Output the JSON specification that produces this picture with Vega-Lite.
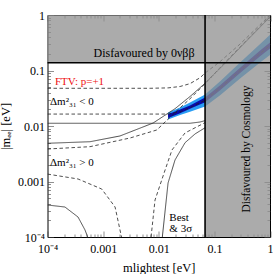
{
  "$schema": "https://vega.github.io/schema/vega-lite/v6.json",
  "width": 222.5,
  "height": 222,
  "autosize": {"type": "none"},
  "padding": {"left": 47.5, "top": 15, "right": 3, "bottom": 37},
  "background": "white",
  "config": {
    "view": {"stroke": "black", "strokeWidth": 1},
    "font": "Liberation Serif",
    "axis": {
      "grid": false,
      "domain": false,
      "tickColor": "#444",
      "tickWidth": 0.6,
      "labelFont": "Liberation Serif",
      "labelFontSize": 12,
      "labelColor": "black",
      "titleFont": "Liberation Serif",
      "titleFontSize": 12.5,
      "titleFontWeight": "normal",
      "titleColor": "black"
    }
  },
  "datasets": {
    "gray": [
      {"x": 0.0001, "x2": 0.068, "y": 0.138, "y2": 1},
      {"x": 0.068, "x2": 1, "y": 0.0001, "y2": 1}
    ],
    "band": [
      {"m": 0.0147, "lo": 0.0131, "hi": 0.0175, "ilo": 0.0139, "ihi": 0.0162},
      {"m": 0.0242, "lo": 0.0158, "hi": 0.0215, "ilo": 0.0170, "ihi": 0.0198},
      {"m": 0.0365, "lo": 0.0180, "hi": 0.0264, "ilo": 0.0205, "ihi": 0.0235},
      {"m": 0.0681, "lo": 0.0225, "hi": 0.0370, "ilo": 0.0268, "ihi": 0.0326},
      {"m": 0.127, "lo": 0.0360, "hi": 0.0640, "ilo": 0.0440, "ihi": 0.0540},
      {"m": 0.290, "lo": 0.0720, "hi": 0.140, "ilo": 0.0900, "ihi": 0.112},
      {"m": 0.664, "lo": 0.140, "hi": 0.300, "ilo": 0.180, "ihi": 0.230},
      {"m": 1.0, "lo": 0.190, "hi": 0.440, "ilo": 0.250, "ihi": 0.320}
    ],
    "curves": [
      {"c": "io3up", "s": "dashed", "o": 1, "m": 0.0001, "e": 0.0478},
      {"c": "io3up", "s": "dashed", "o": 2, "m": 0.00698, "e": 0.0478},
      {"c": "io3up", "s": "dashed", "o": 3, "m": 0.0147, "e": 0.0486},
      {"c": "io3up", "s": "dashed", "o": 4, "m": 0.0242, "e": 0.0515},
      {"c": "io3up", "s": "dashed", "o": 5, "m": 0.0365, "e": 0.058},
      {"c": "io3up", "s": "dashed", "o": 6, "m": 0.0553, "e": 0.074},
      {"c": "io3up", "s": "dashed", "o": 7, "m": 0.068, "e": 0.09},
      {"c": "io3up", "s": "dashed", "o": 8, "m": 0.127, "e": 0.145},
      {"c": "io3up", "s": "dashed", "o": 9, "m": 0.290, "e": 0.30},
      {"c": "io3up", "s": "dashed", "o": 10, "m": 0.664, "e": 0.67},
      {"c": "io3up", "s": "dashed", "o": 11, "m": 1.0, "e": 1.0},
      {"c": "io3lo", "s": "dashed", "o": 1, "m": 0.0001, "e": 0.0164},
      {"c": "io3lo", "s": "dashed", "o": 2, "m": 0.0147, "e": 0.0164},
      {"c": "io3lo", "s": "dashed", "o": 3, "m": 0.0242, "e": 0.0180},
      {"c": "io3lo", "s": "dashed", "o": 4, "m": 0.0365, "e": 0.0215},
      {"c": "io3lo", "s": "dashed", "o": 5, "m": 0.0681, "e": 0.0292},
      {"c": "io3lo", "s": "dashed", "o": 6, "m": 0.127, "e": 0.0485},
      {"c": "io3lo", "s": "dashed", "o": 7, "m": 0.290, "e": 0.100},
      {"c": "io3lo", "s": "dashed", "o": 8, "m": 0.664, "e": 0.203},
      {"c": "io3lo", "s": "dashed", "o": 9, "m": 1.0, "e": 0.283},
      {"c": "iobest", "s": "solid", "o": 1, "m": 0.0001, "e": 0.0112},
      {"c": "iobest", "s": "solid", "o": 2, "m": 0.0365, "e": 0.0112},
      {"c": "iobest", "s": "solid", "o": 3, "m": 0.0553, "e": 0.0118},
      {"c": "iobest", "s": "solid", "o": 4, "m": 0.068, "e": 0.0125},
      {"c": "nobup", "s": "solid", "o": 1, "m": 0.0001, "e": 0.00488},
      {"c": "nobup", "s": "solid", "o": 2, "m": 0.000581, "e": 0.00521},
      {"c": "nobup", "s": "solid", "o": 3, "m": 0.00201, "e": 0.00661},
      {"c": "nobup", "s": "solid", "o": 4, "m": 0.00789, "e": 0.0113},
      {"c": "nobup", "s": "solid", "o": 5, "m": 0.0196, "e": 0.0205},
      {"c": "nobup", "s": "solid", "o": 6, "m": 0.0365, "e": 0.034},
      {"c": "nobup", "s": "solid", "o": 7, "m": 0.0553, "e": 0.049},
      {"c": "nobup", "s": "solid", "o": 8, "m": 0.068, "e": 0.059},
      {"c": "nobup", "s": "solid", "o": 9, "m": 0.15, "e": 0.13},
      {"c": "nobup", "s": "solid", "o": 10, "m": 0.4, "e": 0.36},
      {"c": "nobup", "s": "solid", "o": 11, "m": 1.0, "e": 0.92},
      {"c": "no3up", "s": "dashed", "o": 1, "m": 0.0001, "e": 0.00385},
      {"c": "no3up", "s": "dashed", "o": 2, "m": 0.000581, "e": 0.00424},
      {"c": "no3up", "s": "dashed", "o": 3, "m": 0.00305, "e": 0.00608},
      {"c": "no3up", "s": "dashed", "o": 4, "m": 0.0092, "e": 0.00847},
      {"c": "no3up", "s": "dashed", "o": 5, "m": 0.0196, "e": 0.0175},
      {"c": "no3up", "s": "dashed", "o": 6, "m": 0.0365, "e": 0.031},
      {"c": "no3up", "s": "dashed", "o": 7, "m": 0.0553, "e": 0.047},
      {"c": "no3up", "s": "dashed", "o": 8, "m": 0.068, "e": 0.058},
      {"c": "no3up", "s": "dashed", "o": 9, "m": 0.15, "e": 0.135},
      {"c": "no3up", "s": "dashed", "o": 10, "m": 0.4, "e": 0.37},
      {"c": "no3up", "s": "dashed", "o": 11, "m": 1.0, "e": 0.95},
      {"c": "nolowA", "s": "solid", "o": 1, "m": 0.0001, "e": 0.000377},
      {"c": "nolowA", "s": "solid", "o": 2, "m": 0.000206, "e": 0.000347},
      {"c": "nolowA", "s": "solid", "o": 3, "m": 0.000354, "e": 0.000229},
      {"c": "nolowA", "s": "solid", "o": 4, "m": 0.000472, "e": 0.000134},
      {"c": "nolowA", "s": "solid", "o": 5, "m": 0.000528, "e": 0.0001},
      {"c": "nolowB", "s": "dashed", "o": 1, "m": 0.0001, "e": 0.00136},
      {"c": "nolowB", "s": "dashed", "o": 2, "m": 0.000354, "e": 0.00111},
      {"c": "nolowB", "s": "dashed", "o": 3, "m": 0.000943, "e": 0.000732},
      {"c": "nolowB", "s": "dashed", "o": 4, "m": 0.00164, "e": 0.000347},
      {"c": "nolowB", "s": "dashed", "o": 5, "m": 0.00201, "e": 0.000134},
      {"c": "nolowB", "s": "dashed", "o": 6, "m": 0.00214, "e": 0.0001},
      {"c": "noC", "s": "dashed", "o": 1, "m": 0.00727, "e": 0.0001},
      {"c": "noC", "s": "dashed", "o": 2, "m": 0.00857, "e": 0.000464},
      {"c": "noC", "s": "dashed", "o": 3, "m": 0.013, "e": 0.00161},
      {"c": "noC", "s": "dashed", "o": 4, "m": 0.0173, "e": 0.00370},
      {"c": "noC", "s": "dashed", "o": 5, "m": 0.0297, "e": 0.0075},
      {"c": "noC", "s": "dashed", "o": 6, "m": 0.068, "e": 0.0115},
      {"c": "noD", "s": "solid", "o": 1, "m": 0.0116, "e": 0.0001},
      {"c": "noD", "s": "solid", "o": 2, "m": 0.0147, "e": 0.00094},
      {"c": "noD", "s": "solid", "o": 3, "m": 0.0196, "e": 0.00244},
      {"c": "noD", "s": "solid", "o": 4, "m": 0.0297, "e": 0.0050},
      {"c": "noD", "s": "solid", "o": 5, "m": 0.045, "e": 0.0072},
      {"c": "noD", "s": "solid", "o": 6, "m": 0.068, "e": 0.0093}
    ],
    "bounds": [
      {"x": 0.0001, "x2": 1, "y": 0.138, "y2": 0.138},
      {"x": 0.068, "x2": 0.068, "y": 0.0001, "y2": 1}
    ],
    "leftlabels": [
      {"t": "FTV: p=+1", "m": 0.000136, "e": 0.0628, "col": "#ee1111"},
      {"t": "Δm²₃₁ < 0", "m": 0.000111, "e": 0.0274, "col": "black"},
      {"t": "Δm²₃₁ > 0", "m": 0.000111, "e": 0.00213, "col": "black"},
      {"t": "Best", "m": 0.0155, "e": 0.000218, "col": "black"},
      {"t": "& 3σ", "m": 0.0155, "e": 0.000139, "col": "black"}
    ],
    "centerlabels": [
      {"t": "Disfavoured by 0νββ", "m": 0.00545, "e": 0.207, "a": 0, "fs": 12},
      {"t": "Disfavoured by Cosmology", "m": 0.387, "e": 0.00385, "a": 270, "fs": 11.5}
    ]
  },
  "resolve": {"axis": {"x": "independent", "y": "independent"}},
  "layer": [
    {
      "data": {"name": "band"},
      "mark": {"type": "area", "color": "#2a9df4", "clip": true},
      "encoding": {
        "x": {"field": "m", "type": "quantitative", "scale": {"type": "log", "domain": [0.0001, 1]},
          "axis": {"orient": "bottom", "title": "mlightest [eV]", "titlePadding": 7,
            "values": [0.0001,0.0002,0.0003,0.0004,0.0005,0.0006,0.0007,0.0008,0.0009,0.001,0.002,0.003,0.004,0.005,0.006,0.007,0.008,0.009,0.01,0.02,0.03,0.04,0.05,0.06,0.07,0.08,0.09,0.1,0.2,0.3,0.4,0.5,0.6,0.7,0.8,0.9,1],
            "labelExpr": "datum.value < 0.00015 ? '10⁻⁴' : (indexof([0.001,0.01,0.1,1], datum.value) >= 0 ? '' + datum.value : '')",
            "tickSize": {"condition": {"test": "indexof([0.0001,0.001,0.01,0.1,1], datum.value) >= 0", "value": -6}, "value": -3},
            "labelPadding": 12, "labelFlush": false}},
        "y": {"field": "lo", "type": "quantitative", "scale": {"type": "log", "domain": [0.0001, 1]},
          "axis": {"orient": "left", "title": "|mₑₑ| [eV]", "titlePadding": 5,
            "values": [0.0001,0.0002,0.0003,0.0004,0.0005,0.0006,0.0007,0.0008,0.0009,0.001,0.002,0.003,0.004,0.005,0.006,0.007,0.008,0.009,0.01,0.02,0.03,0.04,0.05,0.06,0.07,0.08,0.09,0.1,0.2,0.3,0.4,0.5,0.6,0.7,0.8,0.9,1],
            "labelExpr": "datum.value < 0.00015 ? '10⁻⁴' : (indexof([0.001,0.01,0.1,1], datum.value) >= 0 ? '' + datum.value : '')",
            "tickSize": {"condition": {"test": "indexof([0.0001,0.001,0.01,0.1,1], datum.value) >= 0", "value": -6}, "value": -3},
            "labelPadding": 9, "labelFlush": false}},
        "y2": {"field": "hi"}
      }
    },
    {
      "data": {"name": "band"},
      "mark": {"type": "area", "color": "#0a0aa8", "clip": true},
      "encoding": {
        "x": {"field": "m", "type": "quantitative", "axis": {"orient": "top", "title": null, "labels": false,
          "values": [0.0001,0.0002,0.0003,0.0004,0.0005,0.0006,0.0007,0.0008,0.0009,0.001,0.002,0.003,0.004,0.005,0.006,0.007,0.008,0.009,0.01,0.02,0.03,0.04,0.05,0.06,0.07,0.08,0.09,0.1,0.2,0.3,0.4,0.5,0.6,0.7,0.8,0.9,1],
          "tickSize": {"condition": {"test": "indexof([0.0001,0.001,0.01,0.1,1], datum.value) >= 0", "value": -6}, "value": -3}}},
        "y": {"field": "ilo", "type": "quantitative", "axis": {"orient": "right", "title": null, "labels": false,
          "values": [0.0001,0.0002,0.0003,0.0004,0.0005,0.0006,0.0007,0.0008,0.0009,0.001,0.002,0.003,0.004,0.005,0.006,0.007,0.008,0.009,0.01,0.02,0.03,0.04,0.05,0.06,0.07,0.08,0.09,0.1,0.2,0.3,0.4,0.5,0.6,0.7,0.8,0.9,1],
          "tickSize": {"condition": {"test": "indexof([0.0001,0.001,0.01,0.1,1], datum.value) >= 0", "value": -6}, "value": -3}}},
        "y2": {"field": "ihi"}
      }
    },
    {
      "data": {"name": "curves"},
      "mark": {"type": "line", "color": "#222", "strokeWidth": 0.8, "clip": true},
      "encoding": {
        "x": {"field": "m", "type": "quantitative", "axis": null},
        "y": {"field": "e", "type": "quantitative", "axis": null},
        "detail": {"field": "c"},
        "order": {"field": "o"},
        "strokeDash": {"field": "s", "type": "nominal", "scale": {"domain": ["solid", "dashed"], "range": [[1, 0], [3.5, 2.5]]}, "legend": null}
      }
    },
    {
      "data": {"name": "gray"},
      "mark": {"type": "rect", "color": "#8f8f8f", "opacity": 0.75},
      "encoding": {
        "x": {"field": "x", "type": "quantitative", "axis": null},
        "x2": {"field": "x2"},
        "y": {"field": "y", "type": "quantitative", "axis": null},
        "y2": {"field": "y2"}
      }
    },
    {
      "data": {"name": "bounds"},
      "mark": {"type": "rule", "color": "black", "strokeWidth": 1.6},
      "encoding": {
        "x": {"field": "x", "type": "quantitative", "axis": null},
        "x2": {"field": "x2"},
        "y": {"field": "y", "type": "quantitative", "axis": null},
        "y2": {"field": "y2"}
      }
    },
    {
      "data": {"name": "leftlabels"},
      "mark": {"type": "text", "font": "Liberation Serif", "fontSize": 11, "baseline": "middle", "align": "left"},
      "encoding": {
        "x": {"field": "m", "type": "quantitative", "axis": null},
        "y": {"field": "e", "type": "quantitative", "axis": null},
        "text": {"field": "t"},
        "color": {"field": "col", "type": "nominal", "scale": null}
      }
    },
    {
      "data": {"name": "centerlabels"},
      "mark": {"type": "text", "font": "Liberation Serif", "baseline": "middle", "align": "center", "color": "black"},
      "encoding": {
        "x": {"field": "m", "type": "quantitative", "axis": null},
        "y": {"field": "e", "type": "quantitative", "axis": null},
        "text": {"field": "t"},
        "angle": {"field": "a", "type": "quantitative", "scale": null},
        "size": {"field": "fs", "type": "quantitative", "scale": null}
      }
    }
  ]
}
